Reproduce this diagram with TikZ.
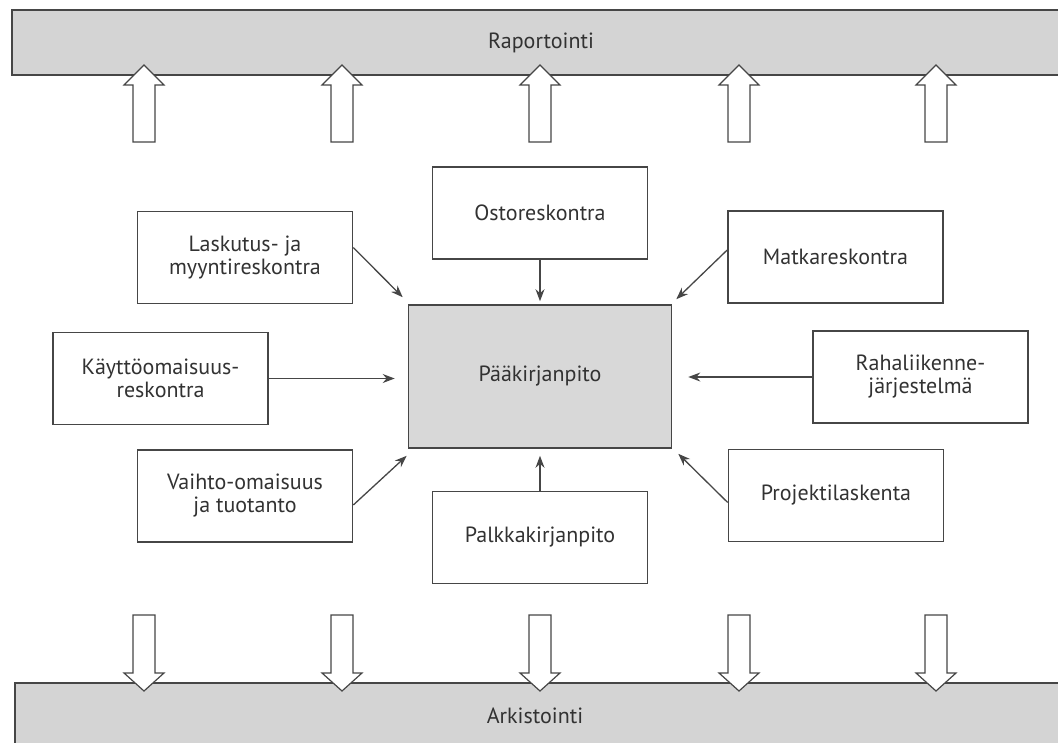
\documentclass[tikz,border=0pt]{standalone}
\usepackage{fontspec}
\setmainfont{PT Sans}
\usetikzlibrary{arrows.meta,calc,positioning}
\definecolor{linegray}{RGB}{70,70,70}
\definecolor{textgray}{RGB}{50,50,50}
\definecolor{bargray}{RGB}{212,212,212}
\definecolor{boxgray}{RGB}{216,216,216}

\begin{document}
\begin{tikzpicture}[x=1pt,y=-1pt,
  box/.style={draw=linegray,line width=1.6pt,minimum width=215pt,minimum height=92pt,inner sep=0pt,align=center,text=textgray,font=\fontsize{22}{23}\selectfont},
  mainbox/.style={box,fill=boxgray,minimum width=263pt,minimum height=143pt},
  bar/.style={draw=linegray,line width=1.4pt,fill=bargray},
  bartext/.style={text=textgray,inner sep=0pt,font=\fontsize{22}{23}\selectfont},
  link/.style={draw=linegray,line width=1.3pt,-{Stealth[length=12pt,width=9pt]}},
  fatarrow/.style={draw=linegray,line width=1.2pt,fill=white,line join=miter}]
\useasboundingbox (0,0) rectangle (1058,742);

% bars
\draw[bar] (12,10) rectangle (1075,75);
\node[bartext] (rap) at (541,43) {Raportointi};
\draw[bar] (15,683) rectangle (1075,760);
\node[bartext] (ark) at (535,716) {Arkistointi};

\foreach \x in {144,342,540,739,936}{
  \draw[fatarrow] (\x-11,142) -- (\x-11,85) -- (\x-20,85) -- (\x,65) -- (\x+20,85) -- (\x+11,85) -- (\x+11,142) -- cycle;
  \draw[fatarrow] (\x-11,615) -- (\x-11,673) -- (\x-20,673) -- (\x,691) -- (\x+20,673) -- (\x+11,673) -- (\x+11,615) -- cycle;
}

% boxes
\node[box] (osto) at (540,213) {Ostoreskontra};
\node[mainbox] (paa) at (540,376.5) {Pääkirjanpito};
\node[box] (palkka) at (540,537.5) {Palkkakirjanpito};
\node[box] (lasku) at (245,257.5) {Laskutus- ja\\myyntireskontra};
\node[box] (kaytto) at (160.5,378.5) {Käyttöomaisuus-\\reskontra};
\node[box] (vaihto) at (245,496) {Vaihto-omaisuus\\ja tuotanto};
\node[box] (matka) at (835.5,257) {Matkareskontra};
\node[box] (raha) at (920.5,377) {Rahaliikenne-\\järjestelmä};
\node[box] (projekti) at (836,495.5) {Projektilaskenta};

% links
\draw[link,shorten >=3pt] (osto) -- (paa);
\draw[link,shorten >=7pt] (palkka) -- (paa);
\draw[link,shorten >=13pt] (kaytto.east) -- (kaytto.east -| paa.west);
\draw[link,shorten >=16pt] (raha.west) -- (raha.west -| paa.east);
\draw[link] ([yshift=10pt]lasku.east) -- ([shift={(-5pt,7pt)}]paa.north west);
\draw[link] ([yshift=-9pt]vaihto.east) -- ([shift={(-1pt,-7pt)}]paa.south west);
\draw[link] ([yshift=7pt]matka.west) -- ([shift={(4pt,5pt)}]paa.north east);
\draw[link] ([yshift=-7pt]projekti.west) -- ([shift={(6pt,-5pt)}]paa.south east);
\end{tikzpicture}
\end{document}
